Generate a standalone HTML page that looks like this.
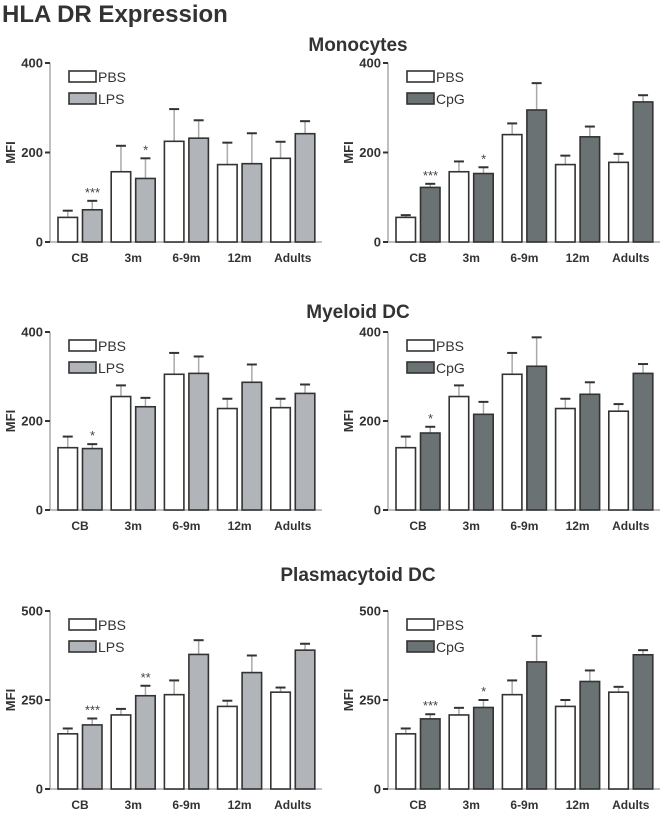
<!DOCTYPE html>
<html><head><meta charset="utf-8"><style>
body{margin:0;background:#fff;}
svg{display:block;font-family:"Liberation Sans",Arial,sans-serif;}
</style></head><body>
<svg id="c" width="662" height="815" viewBox="0 0 662 815">
<text x="2" y="22" font-size="24" font-weight="bold" fill="#333">HLA DR Expression</text>
<text x="358" y="51" font-size="19" font-weight="bold" fill="#333" text-anchor="middle">Monocytes</text>
<text x="358" y="318" font-size="19" font-weight="bold" fill="#333" text-anchor="middle">Myeloid DC</text>
<text x="358" y="581" font-size="19" font-weight="bold" fill="#333" text-anchor="middle">Plasmacytoid DC</text>
</svg>
<script>
const categories=["CB","3m","6-9m","12m","Adults"];
const monoLpsPbs=[55,157,225,173,187], monoLpsPbsErr=[70,215,297,222,224];
const monoLps=[72,142,232,175,242], monoLpsErr=[92,187,272,243,270];
const monoCpgPbs=[55,157,240,173,178], monoCpgPbsErr=[60,180,265,193,197];
const monoCpg=[122,153,295,235,313], monoCpgErr=[130,167,355,258,328];
const myLpsPbs=[140,255,305,228,230], myLpsPbsErr=[165,280,353,250,250];
const myLps=[138,232,307,287,262], myLpsErr=[148,252,345,327,282];
const myCpgPbs=[140,255,305,228,222], myCpgPbsErr=[165,280,353,250,238];
const myCpg=[173,215,323,260,307], myCpgErr=[187,243,388,287,328];
const pdLpsPbs=[155,208,265,232,272], pdLpsPbsErr=[170,225,305,248,285];
const pdLps=[180,262,378,327,390], pdLpsErr=[198,290,418,375,408];
const pdCpgPbs=[155,208,265,232,272], pdCpgPbsErr=[170,228,305,250,287];
const pdCpg=[197,229,357,302,377], pdCpgErr=[210,250,430,333,390];
const ticks400=[0,200,400], ticks500=[0,250,500];
const monoLpsStars=["***","*","","",""], monoCpgStars=["***","*","","",""];
const myLpsStars=["*","","","",""], myCpgStars=["*","","","",""];
const pdLpsStars=["***","**","","",""], pdCpgStars=["***","*","","",""];

const svg=document.getElementById('c');
const NS='http://www.w3.org/2000/svg';
function mk(tag,attrs,parent){const e=document.createElementNS(NS,tag);for(const k in attrs)e.setAttribute(k,attrs[k]);(parent||svg).appendChild(e);return e;}

function panel(name,ox,y0,yTop,maxV,ticks,pbs,pbsErr,trt,trtErr,stars,trtName,trtColor){
  const g=mk('g',{});
  
  
  const ax=ox+50;
  const yS=v=>y0-(v/maxV)*(y0-yTop);
  const xS=i=>ox+58+i*53.2;
  const ya=mk('line',{x1:ax,y1:yTop,x2:ax,y2:y0,stroke:'#aaa','stroke-width':1.5},g);
  
  
  const xa=mk('line',{x1:ax,y1:y0,x2:ox+322,y2:y0,stroke:'#aaa','stroke-width':1.5},g);
  
  
  ticks.forEach(t=>{
    mk('line',{x1:ax-5,y1:yS(t),x2:ax,y2:yS(t),stroke:'#333','stroke-width':2},g);
    const tx=mk('text',{x:ax-7,y:yS(t)+4.5,'font-size':13,'font-weight':'bold','text-anchor':'end',fill:'#333'},g);
    tx.textContent=t;
    
    
  });
  const yl=mk('text',{x:0,y:0,'font-size':13,'font-weight':'bold','text-anchor':'middle',fill:'#333',transform:`translate(${ox+15},${(y0+yTop)/2}) rotate(-90)`},g);
  yl.textContent='MFI';
  
  
  categories.forEach((c,i)=>{
    const x=xS(i);
    [[pbs,pbsErr,'#fff',0,'pbs'],[trt,trtErr,trtColor,24.5,trtName]].forEach(([vals,errs,col,off,nm])=>{
      const bx=x+off,w=19.5;
      const e1=mk('line',{x1:bx+w/2,y1:yS(errs[i]),x2:bx+w/2,y2:yS(vals[i]),stroke:'#aaa','stroke-width':1.5},g);
      
      
      mk('line',{x1:bx+w/2-5,y1:yS(errs[i]),x2:bx+w/2+5,y2:yS(errs[i]),stroke:'#333','stroke-width':2},g);
      const r=mk('rect',{x:bx,y:yS(vals[i]),width:w,height:y0-yS(vals[i]),fill:col,stroke:'#333','stroke-width':1.6},g);
      
      
    });
    if(stars[i]){
      const s=mk('text',{x:x+34.5,y:yS(trtErr[i])-4,'font-size':13,'text-anchor':'middle',fill:'#444'},g);
      s.textContent=stars[i];
      
      
    }
    const cl=mk('text',{x:x+22,y:y0+20,'font-size':12,'font-weight':'bold','text-anchor':'middle',fill:'#333'},g);
    cl.textContent=c;
    
    
  });
  [['PBS','#fff',0],[trtName,trtColor,22]].forEach(([t,col,dy])=>{
    const r=mk('rect',{x:ox+69,y:yTop+8+dy,width:27,height:11,fill:col,stroke:'#333','stroke-width':1.6},g);
    
    
    const tx=mk('text',{x:ox+98,y:yTop+19+dy,'font-size':14,fill:'#333'},g);
    tx.textContent=t;
    
    
  });
}
const L='#b1b4b9',D='#6b7274';
panel('monocytes-lps-panel',0,242,63,400,ticks400,monoLpsPbs,monoLpsPbsErr,monoLps,monoLpsErr,monoLpsStars,'LPS',L);
panel('monocytes-cpg-panel',338,242,63,400,ticks400,monoCpgPbs,monoCpgPbsErr,monoCpg,monoCpgErr,monoCpgStars,'CpG',D);
panel('myeloid-lps-panel',0,510,332,400,ticks400,myLpsPbs,myLpsPbsErr,myLps,myLpsErr,myLpsStars,'LPS',L);
panel('myeloid-cpg-panel',338,510,332,400,ticks400,myCpgPbs,myCpgPbsErr,myCpg,myCpgErr,myCpgStars,'CpG',D);
panel('pdc-lps-panel',0,789,611,500,ticks500,pdLpsPbs,pdLpsPbsErr,pdLps,pdLpsErr,pdLpsStars,'LPS',L);
panel('pdc-cpg-panel',338,789,611,500,ticks500,pdCpgPbs,pdCpgPbsErr,pdCpg,pdCpgErr,pdCpgStars,'CpG',D);
</script>
</body></html>
